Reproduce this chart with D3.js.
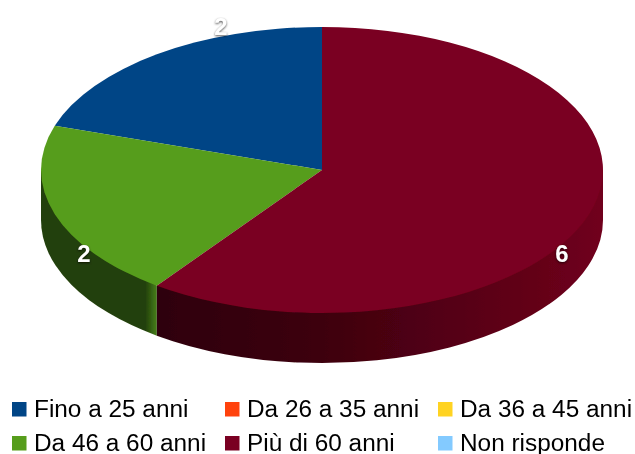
<!DOCTYPE html>
<html><head><meta charset="utf-8">
<script src="https://cdn.jsdelivr.net/npm/d3@7"></script>
<style>html,body{margin:0;padding:0;background:#fff}svg{display:block}text{font-family:"Liberation Sans",Arial,sans-serif}</style>
</head><body><svg id="c" width="635" height="454"></svg>
<script>
const categories = ["Fino a 25 anni","Da 26 a 35 anni","Da 36 a 45 anni","Da 46 a 60 anni","Più di 60 anni","Non risponde"];
const values = [2,0,0,2,6,0];
const colors = ["#004586","#ff420e","#ffd320","#579d1c","#7a0020","#83caff"];

const W=635,H=454,cx=322,cy=170,rx=281,ry=143,depth=50,k=ry/rx;
const labelPos = {0:[221,26],3:[84,253],4:[562,253]};
const svg=d3.select("#c");
const defs=svg.append("defs");
const soft=defs.append("filter").attr("id","soft").attr("x","-5%").attr("y","-5%").attr("width","110%").attr("height","110%");
soft.append("feGaussianBlur").attr("stdDeviation",0.5);

const wallStops={
  3:[[0,"#223f0a"],[0.9,"#223f0a"],[1,"#47801a"]],
  4:[[0,"#2e0009"],[0.35,"#3c000e"],[0.75,"#5c0016"],[1,"#70001c"]]
};
Object.entries(wallStops).forEach(([i,st])=>{
  const g=defs.append("linearGradient").attr("id","wall"+i).attr("x1",0).attr("x2",1).attr("y1",0).attr("y2",0);
  st.forEach(s=>g.append("stop").attr("offset",s[0]).attr("stop-color",s[1]));
});

const pie=d3.pie().sort(null).startAngle(2*Math.PI).endAngle(0).value(d=>d);
const arcs=pie(values);
const root=svg.append("g").attr("filter","url(#soft)");
const disc=root.append("g").attr("transform",`translate(${cx},${cy}) scale(1,${k})`);

arcs.forEach((a,i)=>{
  if(a.startAngle===a.endAngle) return;
  const hi=Math.max(a.startAngle,a.endAngle), lo=Math.min(a.startAngle,a.endAngle);
  const s=Math.max(lo,Math.PI/2), e=Math.min(hi,3*Math.PI/2);
  if(e<=s) return;
  const p=d3.path(), off=depth/k, A=t=>t-Math.PI/2;
  p.moveTo(rx*Math.cos(A(s)),rx*Math.sin(A(s)));
  p.lineTo(rx*Math.cos(A(s)),rx*Math.sin(A(s))+off);
  p.arc(0,off,rx,A(s),A(e),false);
  p.lineTo(rx*Math.cos(A(e)),rx*Math.sin(A(e)));
  p.closePath();
  disc.append("path").attr("d",p.toString()).attr("fill",`url(#wall${i})`);
});

const arc=d3.arc().innerRadius(0).outerRadius(rx);
disc.selectAll("path.top").data(arcs.filter(a=>a.value>0)).enter().append("path")
  .attr("class","top").attr("d",arc).attr("fill",d=>colors[d.index]);

arcs.filter(a=>a.value>0).forEach(a=>{
  const [x,y]=labelPos[a.index];
  root.append("text").attr("x",x).attr("y",y+9).attr("text-anchor","middle")
    .attr("font-size",24).attr("font-weight","bold").attr("fill","#fff")
    .style("filter","drop-shadow(0 1px 1px rgba(0,0,0,.65))").text(a.value);
});

const colX=d3.scalePoint().domain([0,1,2]).range([12,438]);
const rowY=d3.scalePoint().domain([0,1]).range([409.5,443.5]);
const leg=root.selectAll("g.leg").data(categories).enter().append("g").attr("class","leg")
  .attr("transform",(d,i)=>`translate(${colX(i%3)},${rowY(Math.floor(i/3))})`);
leg.append("rect").attr("x",0).attr("y",-7.5).attr("width",14.5).attr("height",14.5).attr("fill",(d,i)=>colors[i]);
leg.append("text").attr("transform","translate(22,7) scale(1.06,1)").attr("font-size",23).attr("fill","#000").text(d=>d);
</script></body></html>
